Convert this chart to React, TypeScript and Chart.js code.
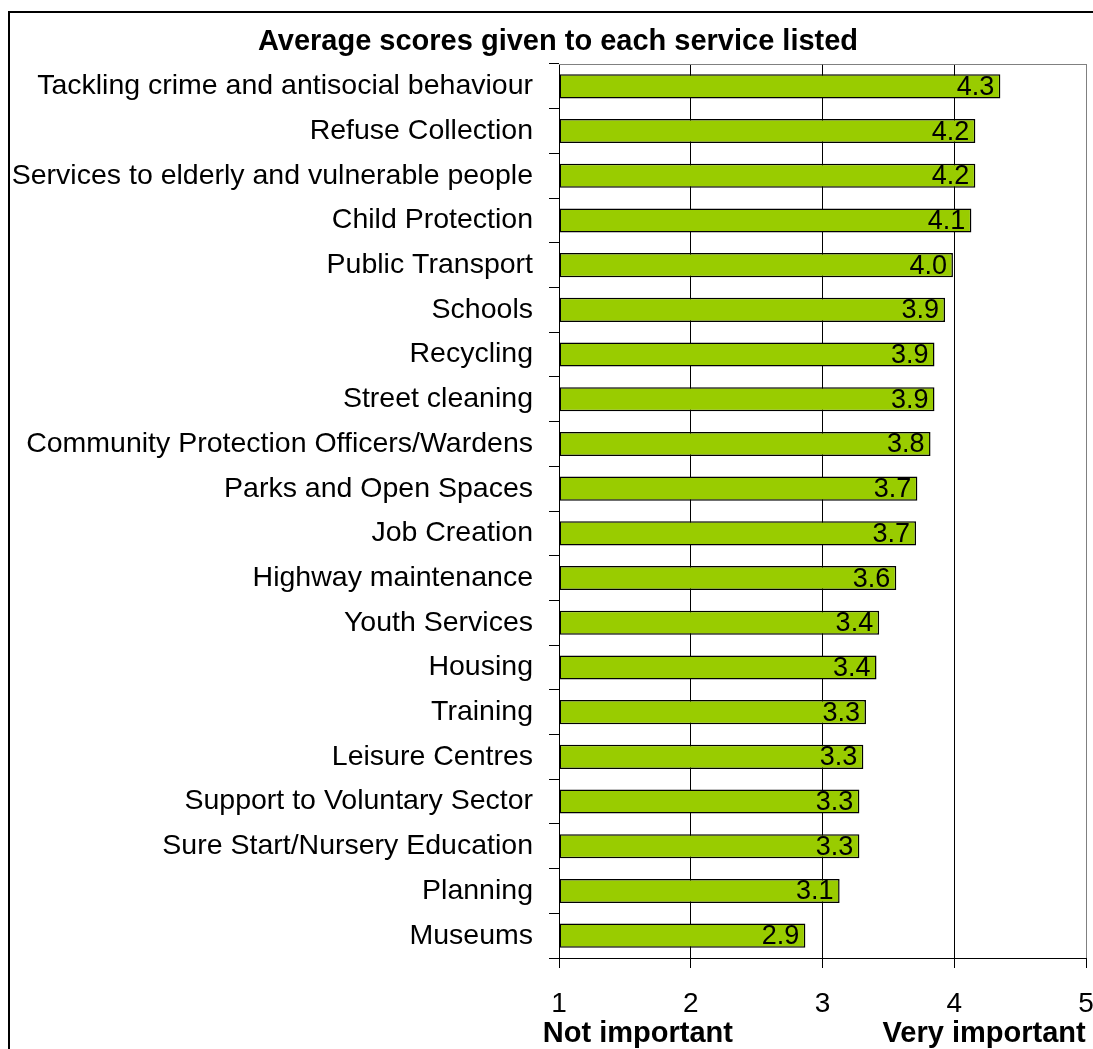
import React, { useEffect, useRef } from "react";
import { Chart, registerables } from "chart.js";

Chart.register(...registerables);

const TITLE = "Average scores given to each service listed";
const categories = [
  "Tackling crime and antisocial behaviour",
  "Refuse Collection",
  "Services to elderly and vulnerable people",
  "Child Protection",
  "Public Transport",
  "Schools",
  "Recycling",
  "Street cleaning",
  "Community Protection Officers/Wardens",
  "Parks and Open Spaces",
  "Job Creation",
  "Highway maintenance",
  "Youth Services",
  "Housing",
  "Training",
  "Leisure Centres",
  "Support to Voluntary Sector",
  "Sure Start/Nursery Education",
  "Planning",
  "Museums",
];
const scores = [
  4.35, 4.16, 4.16, 4.13, 3.99, 3.93, 3.85, 3.85, 3.82, 3.72, 3.71, 3.56, 3.43,
  3.41, 3.33, 3.31, 3.28, 3.28, 3.13, 2.87,
];
const scoreLabels = [
  "4.3", "4.2", "4.2", "4.1", "4.0", "3.9", "3.9", "3.9", "3.8", "3.7", "3.7",
  "3.6", "3.4", "3.4", "3.3", "3.3", "3.3", "3.3", "3.1", "2.9",
];
const xTicks = [1, 2, 3, 4, 5];
const lowLabel = "Not important";
const highLabel = "Very important";

const FONT = "'Liberation Sans', Arial, Helvetica, sans-serif";

export default function App() {
  const ref = useRef<HTMLCanvasElement | null>(null);

  useEffect(() => {
    if (!ref.current) return;
    const decor = {
      id: "decor",
      beforeDraw(chart: any) {
        const { ctx } = chart;
        ctx.save();
        ctx.fillStyle = "#ffffff";
        ctx.fillRect(0, 0, chart.width, chart.height);
        ctx.strokeStyle = "#000000";
        ctx.lineWidth = 2;
        ctx.beginPath();
        ctx.moveTo(9, chart.height);
        ctx.lineTo(9, 12);
        ctx.lineTo(chart.width, 12);
        ctx.stroke();
        ctx.restore();
      },
      afterDraw(chart: any) {
        const { ctx, chartArea } = chart;
        const xs = chart.scales.x;
        ctx.save();
        ctx.strokeStyle = "#808080";
        ctx.lineWidth = 1;
        ctx.beginPath();
        ctx.moveTo(chartArea.left, chartArea.top + 0.5);
        ctx.lineTo(chartArea.right, chartArea.top + 0.5);
        ctx.stroke();
        ctx.fillStyle = "#000000";
        ctx.textAlign = "center";
        ctx.textBaseline = "middle";
        ctx.font = `bold 29px ${FONT}`;
        ctx.fillText(TITLE, 558, 42);
        ctx.fillText(lowLabel, (xs.getPixelForValue(1) + xs.getPixelForValue(2)) / 2 + 13, 1034);
        ctx.fillText(highLabel, (xs.getPixelForValue(4) + xs.getPixelForValue(5)) / 2 - 36, 1034);
        // data labels
        const meta = chart.getDatasetMeta(0);
        ctx.font = `27px ${FONT}`;
        ctx.textAlign = "right";
        meta.data.forEach((bar: any, i: number) => {
          ctx.fillText(scoreLabels[i], bar.x - 6, bar.y + 1);
        });
        ctx.restore();
      },
    };

    const chart = new Chart(ref.current, {
      type: "bar",
      data: {
        labels: categories,
        datasets: [
          {
            data: scores,
            base: 1,
            backgroundColor: "#99CC00",
            borderColor: "#000000",
            borderWidth: 1.5,
            borderSkipped: false,
            barPercentage: 0.54,
            categoryPercentage: 1,
          },
        ],
      },
      options: {
        indexAxis: "y",
        animation: false,
        responsive: true,
        maintainAspectRatio: false,
        devicePixelRatio: 1,
        layout: { padding: { top: 64, right: 7, left: 0, bottom: 0 } },
        plugins: {
          legend: { display: false },
          title: { display: false },
          tooltip: { enabled: false },
        },
        scales: {
          x: {
            type: "linear",
            min: 1,
            max: 5,
            beginAtZero: false,
            afterBuildTicks: (scale: any) => {
              scale.ticks = xTicks.map((v) => ({ value: v }));
            },
            afterFit: (scale: any) => {
              scale.height = 91;
              scale.paddingLeft = 0;
              scale.paddingRight = 0;
            },
            ticks: {
              color: "#000000",
              font: { family: FONT, size: 28 },
              padding: 19,
              maxRotation: 0,
            },
            grid: {
              color: (c: any) => (c.tick && c.tick.value === 5 ? "#808080" : "#000000"),
              tickColor: "#000000",
              tickLength: 10,
              lineWidth: 1,
            },
            border: { color: "#000000", width: 1 },
          },
          y: {
            afterFit: (scale: any) => {
              scale.width = 559;
              scale.paddingTop = 0;
              scale.paddingBottom = 0;
            },
            ticks: {
              color: "#000000",
              font: { family: FONT, size: 28.5 },
              padding: 16,
              autoSkip: false,
            },
            grid: {
              offset: true,
              drawOnChartArea: false,
              drawTicks: true,
              tickLength: 10,
              color: "#000000",
            },
            border: { color: "#000000", width: 1 },
          },
        },
      },
      plugins: [decor],
    });
    return () => chart.destroy();
  }, []);

  return (
    <div style={{ position: "absolute", left: 0, top: 0, width: 1093, height: 1049 }}>
      <canvas ref={ref} />
    </div>
  );
}
